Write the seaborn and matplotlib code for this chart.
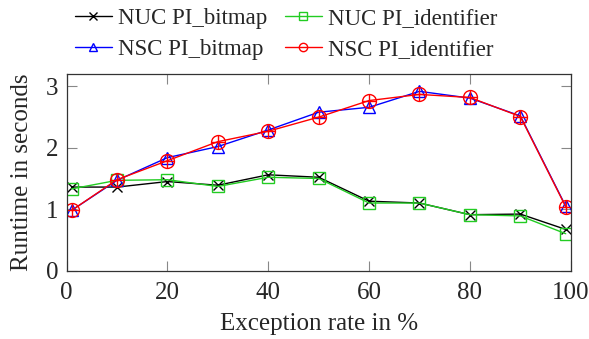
import pandas as pd
import matplotlib.pyplot as plt
import seaborn as sns

# Dados
taxa = [1, 10, 20, 30, 40, 50, 60, 70, 80, 90, 99]
nuc_bitmap = [1.36, 1.36, 1.45, 1.39, 1.56, 1.52, 1.13, 1.10, 0.91, 0.92, 0.67]
nuc_identifier = [1.33, 1.47, 1.48, 1.37, 1.52, 1.50, 1.10, 1.10, 0.91, 0.89, 0.60]
nsc_bitmap = [0.98, 1.47, 1.84, 2.02, 2.29, 2.58, 2.66, 2.92, 2.81, 2.52, 1.05]
nsc_identifier = [0.98, 1.48, 1.79, 2.10, 2.27, 2.50, 2.77, 2.87, 2.82, 2.51, 1.04]

series = {
    'NUC PI_bitmap': nuc_bitmap,
    'NUC PI_identifier': nuc_identifier,
    'NSC PI_bitmap': nsc_bitmap,
    'NSC PI_identifier': nsc_identifier,
}
df = pd.concat([pd.DataFrame({'taxa': taxa, 'runtime': v, 'serie': k})
                for k, v in series.items()])

sns.set_style('ticks')
plt.rcParams['font.family'] = ['Liberation Serif', 'DejaVu Serif']

fig = plt.figure(figsize=(5.89, 3.39), dpi=100)
ax = fig.add_axes([0.113, 0.202, 0.856, 0.581])

cores = {'NUC PI_bitmap': 'black', 'NUC PI_identifier': '#22cc22',
         'NSC PI_bitmap': 'blue', 'NSC PI_identifier': 'red'}
marcadores = {'NUC PI_bitmap': 'x', 'NUC PI_identifier': 's',
              'NSC PI_bitmap': '^', 'NSC PI_identifier': 'o'}
tamanhos = {'NUC PI_bitmap': 7, 'NUC PI_identifier': 9,
            'NSC PI_bitmap': 8, 'NSC PI_identifier': 10}

for nome in series:
    sub = df[df['serie'] == nome]
    sns.lineplot(data=sub, x='taxa', y='runtime', ax=ax, label=nome,
                 color=cores[nome], linewidth=1.0, marker=marcadores[nome],
                 markersize=tamanhos[nome], markerfacecolor='none',
                 markeredgecolor=cores[nome], markeredgewidth=1.0)

# cruz dentro do circulo (oplus) para NSC PI_identifier
sub = df[df['serie'] == 'NSC PI_identifier']
ax.plot(sub['taxa'], sub['runtime'], linestyle='none', marker='+',
        markersize=10, color='red', markeredgewidth=1.0)

ax.set_xlim(0, 100)
ax.set_ylim(0, 3.21)
ax.set_xticks([0, 20, 40, 60, 80, 100])
ax.set_yticks([0, 1, 2, 3])
ax.tick_params(direction='in', top=True, right=True, length=7,
               color='#888888', labelsize=18)
ax.tick_params(axis='x', pad=8)
ax.tick_params(axis='y', pad=6)
for s in ax.spines.values():
    s.set_linewidth(0.9)
    s.set_color('#333333')

ax.set_xlabel('Exception rate in %', fontsize=18, labelpad=7)
ax.set_ylabel('Runtime in seconds', fontsize=18, labelpad=9)

# legenda em duas linhas: NUC em cima, NSC embaixo
handles, labels = ax.get_legend_handles_labels()
ordem = [0, 2, 1, 3]
leg = ax.legend([handles[i] for i in ordem], [labels[i] for i in ordem],
                loc='lower center', bbox_to_anchor=(0.436, 1.0), ncol=2,
                frameon=False, fontsize=16.5, handlelength=1.6,
                columnspacing=0.75, labelspacing=0.42, handletextpad=0.3,
                borderpad=0.1)
for h in leg.legend_handles:
    h.set_markersize(6)

fig.savefig('out.png', dpi=100)
